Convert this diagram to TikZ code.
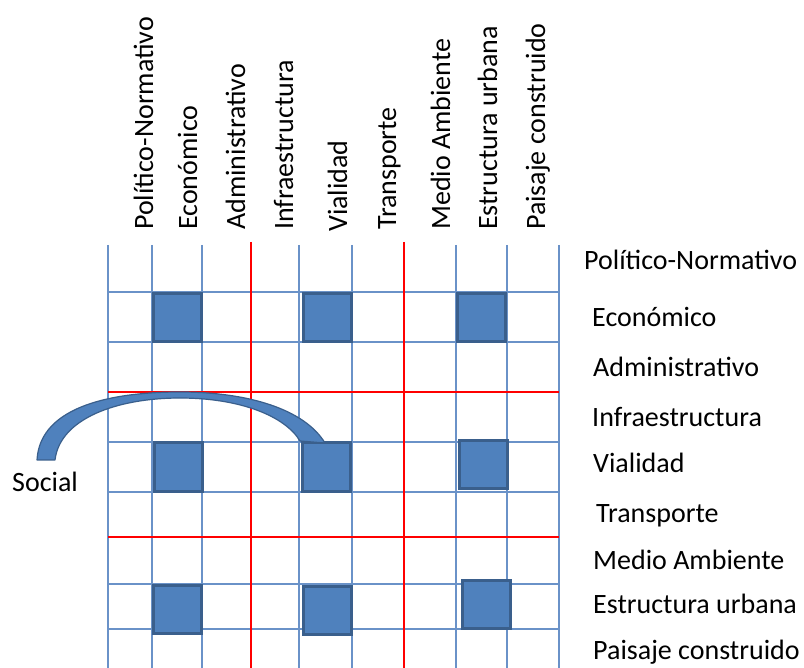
\documentclass[tikz,border=0pt]{standalone}
\usepackage{fontspec}
\setmainfont{Carlito}
\usetikzlibrary{calc}
\definecolor{gridblue}{HTML}{6A92C8}
\definecolor{gridred}{HTML}{FF0000}
\definecolor{boxfill}{HTML}{4F81BD}
\definecolor{boxdraw}{HTML}{3A5F8C}
\tikzset{
  gridline/.style={draw=gridblue, line width=1.4pt},
  redline/.style={draw=gridred, line width=1.4pt},
  cell/.style={draw=boxdraw, fill=boxfill, line width=3pt, minimum size=48pt, inner sep=0pt, outer sep=0pt},
  lbl/.style={font=\fontsize{28}{34}\selectfont, inner sep=0pt, anchor=base west},
  toplbl/.style={font=\fontsize{28}{34}\selectfont, inner sep=0pt, anchor=base west, rotate=90},
  arcband/.style={draw=boxdraw, fill=boxfill, line width=1.2pt, line join=round}
}
\begin{document}
\begin{tikzpicture}[x=1pt,y=-1pt]
\useasboundingbox (0,0) rectangle (804,668);
% grid
\foreach \x in {108,152,202,299,352,456,507,559} \draw[gridline] (\x,245) -- (\x,668);
\foreach \y in {292,342,442,492,584,629} \draw[gridline] (108,\y) -- (559,\y);
\foreach \x in {251,404} \draw[redline] (\x,242) -- (\x,668);
\foreach \y in {392,537} \draw[redline] (108,\y) -- (559,\y);
% squares
\node[cell] (e1) at (177,317.5) {};
\node[cell] (e2) at (327.5,317.5) {};
\node[cell] (e3) at (481,317.5) {};
\node[cell] (v1) at (178,467) {};
\node[cell] (v2) at (326,467) {};
\node[cell] (v3) at (483,464.5) {};
\node[cell] (s1) at (177.5,609.5) {};
\node[cell] (s2) at (327.5,610.5) {};
\node[cell] (s3) at (486,604.5) {};
% column labels
\node[toplbl] (c1) at (153,230) {Político-Normativo};
\node[toplbl] (c2) at (197,230) {Económico};
\node[toplbl] (c3) at (245,230) {Administrativo};
\node[toplbl] (c4) at (293,230) {Infraestructura};
\node[toplbl] (c5) at (347,232) {Vialidad};
\node[toplbl] (c6) at (396,230) {Transporte};
\node[toplbl] (c7) at (450,230) {Medio Ambiente};
\node[toplbl] (c8) at (497,230) {Estructura urbana};
\node[toplbl] (c9) at (545,230) {Paisaje construido};
% row labels
\node[lbl] (r1) at (584,270) {Político-Normativo};
\node[lbl] (r2) at (592,327) {Económico};
\node[lbl] (r3) at (593,377) {Administrativo};
\node[lbl] (r4) at (592,427) {Infraestructura};
\node[lbl] (r5) at (593,472) {Vialidad};
\node[lbl] (r6) at (596,522) {Transporte};
\node[lbl] (r7) at (593,569) {Medio Ambiente};
\node[lbl] (r8) at (593,613) {Estructura urbana};
\node[lbl] (r9) at (593,659) {Paisaje construido};
% social
\node[lbl] (soc) at (12,492) {Social};
% curved band
\coordinate (tipo) at ($(v2.north west)+(23,0)$);
\draw[arcband] (37,460) .. controls (40,405) and (115,392) .. (180,392)
  .. controls (250,392) and (305,410) .. (tipo)
  -- (300,441) .. controls (285,416) and (240,398) .. (180,398)
  .. controls (118,398) and (60,418) .. (55,460) -- cycle;
\end{tikzpicture}
\end{document}
